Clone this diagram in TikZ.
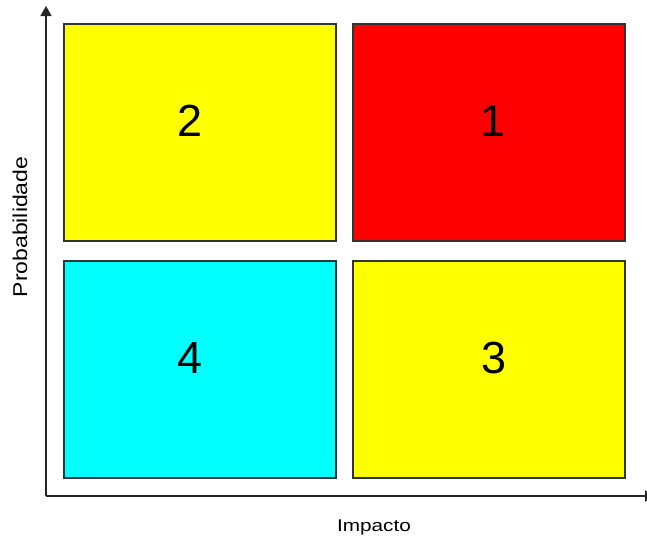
\documentclass[tikz,border=0pt]{standalone}
\usepackage{fontspec}
\setmainfont{Liberation Sans}
\usetikzlibrary{arrows.meta}
\definecolor{qyellow}{HTML}{FFFF00}
\definecolor{qred}{HTML}{FF0000}
\definecolor{qcyan}{HTML}{00FFFF}
\definecolor{qborder}{HTML}{333333}
\tikzset{
  quad/.style={draw=qborder, line width=2pt, minimum width=272pt, minimum height=217pt, inner sep=0pt, anchor=north west},
  digit/.style={font=\fontsize{45}{48}\selectfont, inner sep=0pt},
  axis/.style={line width=1.6pt, draw=black!85},
  axlabel/.style={font=\fontsize{17}{20}\selectfont, inner sep=0pt}
}
\begin{document}
\begin{tikzpicture}[x=1pt,y=-1pt]
\clip (0,0) rectangle (647,542);
\useasboundingbox (0,0) rectangle (647,542);
\node[quad, fill=qyellow] (q2) at (63,23) {};
\node[quad, fill=qred] (q1) at (352,23) {};
\node[quad, fill=qcyan] (q4) at (63,260) {};
\node[quad, fill=qyellow] (q3) at (352,260) {};
\node[digit] (n2) at (190,121) {2};
\node[digit] (n1) at (493,121) {1};
\node[digit] (n4) at (190,358) {4};
\node[digit] (n3) at (494,358) {3};
\coordinate (o) at (46,496);
\coordinate (ytop) at (46,6);
\coordinate (xend) at (655,496);
\draw[axis, -{Triangle[length=10pt,width=11pt]}] (o) -- (ytop);
\draw[axis, -{Triangle[length=10pt,width=11pt]}] (o) -- (xend);
\node[axlabel] (xl) at (374,527) {\scalebox{1.22}[1]{Impacto}};
\node[axlabel, rotate=90] (yl) at (20,227) {\scalebox{1.15}[1]{\fontsize{20}{24}\selectfont Probabilidade}};
\end{tikzpicture}
\end{document}
